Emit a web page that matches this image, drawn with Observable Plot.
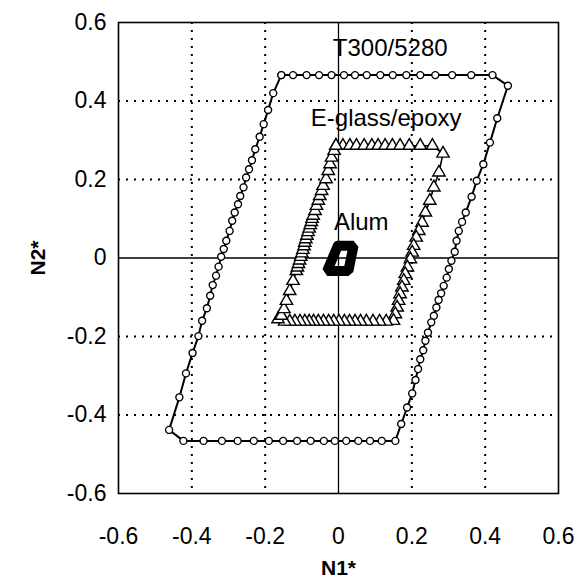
<!DOCTYPE html>
<html>
<head>
<meta charset="utf-8">
<script src="https://cdn.jsdelivr.net/npm/d3@7"></script>
<script src="https://cdn.jsdelivr.net/npm/@observablehq/plot@0.6"></script>
<style>
  html, body { margin: 0; padding: 0; background: #fff; }
  #chart svg { display: block; }
</style>
</head>
<body>
<div id="chart"></div>
<script>
// ---- tick values & labels ----
const axisTicks = [-0.6, -0.4, -0.2, 0, 0.2, 0.4, 0.6];
const axisTickLabels = ["-0.6", "-0.4", "-0.2", "0", "0.2", "0.4", "0.6"];
const gridValues = [-0.4, -0.2, 0.2, 0.4];

// ---- T300/5280 envelope (circles), clockwise from top-left ----
const t300X = [
  -0.156, -0.124, -0.087, -0.053, -0.019, 0.015, 0.045, 0.077, 0.114, 0.148, 0.185, 0.223, 0.264, 0.310, 0.362, 0.420,
  0.462, 0.433, 0.413, 0.395, 0.377, 0.363, 0.347, 0.337, 0.328, 0.322, 0.317, 0.308, 0.301, 0.295, 0.287, 0.280, 0.273,
  0.267, 0.260, 0.253, 0.244, 0.237, 0.231, 0.223, 0.217, 0.210, 0.201, 0.187, 0.171, 0.155,
  0.118, 0.086, 0.054, 0.021, -0.010, -0.040, -0.076, -0.113, -0.151, -0.190, -0.231, -0.275, -0.318, -0.368, -0.423,
  -0.462, -0.434, -0.416, -0.398, -0.382, -0.372, -0.359, -0.350, -0.343, -0.334, -0.327, -0.320,
  -0.313, -0.306, -0.297, -0.290, -0.283, -0.274, -0.268, -0.259, -0.252, -0.244, -0.236, -0.227, -0.215, -0.204, -0.192, -0.178,
  -0.156
];
const t300Y = [
  0.466, 0.466, 0.466, 0.466, 0.466, 0.466, 0.466, 0.466, 0.466, 0.466, 0.466, 0.466, 0.466, 0.466, 0.466, 0.466,
  0.439, 0.356, 0.294, 0.239, 0.197, 0.156, 0.116, 0.092, 0.069, 0.044, 0.016, -0.007, -0.028, -0.050, -0.071, -0.090, -0.107,
  -0.126, -0.147, -0.164, -0.190, -0.211, -0.235, -0.258, -0.283, -0.311, -0.345, -0.381, -0.423, -0.466,
  -0.466, -0.466, -0.466, -0.466, -0.466, -0.466, -0.466, -0.466, -0.466, -0.466, -0.466, -0.466, -0.466, -0.466, -0.466,
  -0.438, -0.355, -0.294, -0.242, -0.199, -0.160, -0.128, -0.096, -0.069, -0.045, -0.022, 0.003,
  0.023, 0.044, 0.069, 0.095, 0.116, 0.137, 0.158, 0.180, 0.205, 0.226, 0.249, 0.277, 0.309, 0.341, 0.377, 0.420,
  0.466
];

// ---- E-glass/epoxy envelope (triangles), clockwise from top-left ----
const eglassX = [
  -0.007, 0.012, 0.031, 0.049, 0.070, 0.091, 0.108, 0.127, 0.147, 0.168, 0.193, 0.223, 0.256,
  0.285, 0.274, 0.260, 0.249, 0.237, 0.228, 0.219, 0.212, 0.205, 0.201, 0.196, 0.188, 0.182, 0.178, 0.173, 0.168, 0.164, 0.160, 0.155, 0.150,
  0.130, 0.112, 0.094, 0.076, 0.060, 0.045, 0.030, 0.016, 0.001, -0.013, -0.027, -0.041, -0.055, -0.068, -0.080, -0.092, -0.105, -0.119, -0.133, -0.147,
  -0.165, -0.156, -0.149, -0.142, -0.133, -0.124, -0.115,
  -0.112, -0.109, -0.106, -0.103, -0.100, -0.097, -0.094, -0.092, -0.089, -0.086, -0.083, -0.080, -0.077, -0.074, -0.072,
  -0.069, -0.064, -0.060, -0.055, -0.051, -0.046, -0.042, -0.034, -0.028, -0.023, -0.019, -0.012,
  -0.007
];
const eglassY = [
  0.286, 0.286, 0.286, 0.286, 0.286, 0.286, 0.286, 0.286, 0.286, 0.286, 0.286, 0.286, 0.286,
  0.266, 0.218, 0.180, 0.146, 0.116, 0.090, 0.069, 0.052, 0.031, 0.014, -0.003, -0.024, -0.041, -0.058, -0.075, -0.092, -0.109, -0.126, -0.143, -0.160,
  -0.162, -0.162, -0.162, -0.162, -0.162, -0.162, -0.162, -0.162, -0.162, -0.162, -0.162, -0.162, -0.162, -0.162, -0.162, -0.162, -0.162, -0.162, -0.162, -0.162,
  -0.156, -0.147, -0.130, -0.109, -0.084, -0.058, -0.033,
  -0.024, -0.015, -0.006, 0.003, 0.012, 0.021, 0.030, 0.039, 0.048, 0.057, 0.066, 0.075, 0.084, 0.092, 0.100,
  0.108, 0.120, 0.133, 0.146, 0.158, 0.171, 0.184, 0.201, 0.222, 0.239, 0.256, 0.273,
  0.286
];

// ---- Aluminium envelope (small, thick) ----
const alumX = [-0.002, 0.041, 0.027, -0.031, -0.002];
const alumY = [0.031, 0.031, -0.033, -0.033, 0.031];

// ---- annotation labels ----
const labelText = ["T300/5280", "E-glass/epoxy", "Alum"];
const labelX = [0.141, 0.130, 0.062];
const labelY = [0.533, 0.357, 0.092];

const t300 = t300X.map((x, i) => ({x, y: t300Y[i]}));
const eglass = eglassX.map((x, i) => ({x, y: eglassY[i]}));
const alum = alumX.map((x, i) => ({x, y: alumY[i]}));
const labels = labelText.map((t, i) => ({t, x: labelX[i], y: labelY[i]}));

const fmt = d => axisTickLabels[axisTicks.findIndex(v => Math.abs(v - d) < 1e-9)];

const chart = Plot.plot({
  width: 580,
  height: 582,
  marginLeft: 118,
  marginRight: 22,
  marginTop: 22,
  marginBottom: 89,
  style: {fontFamily: "'Liberation Sans', Arial, Helvetica, sans-serif", fontSize: "22px", background: "#fff", color: "#000"},
  x: {domain: [-0.6, 0.6]},
  y: {domain: [-0.6, 0.6]},
  marks: [
    Plot.ruleX(gridValues, {stroke: "#000", strokeWidth: 2, strokeDasharray: "2,6"}),
    Plot.ruleY(gridValues, {stroke: "#000", strokeWidth: 2, strokeDasharray: "2,6"}),
    Plot.ruleX([0], {stroke: "#000", strokeWidth: 1.3}),
    Plot.ruleY([0], {stroke: "#000", strokeWidth: 1.3}),
    Plot.frame({stroke: "#000", strokeWidth: 1.6}),
    Plot.axisX({ticks: axisTicks, tickFormat: fmt, tickSize: 0, tickPadding: 34, label: null, fontSize: 23}),
    Plot.axisY({ticks: axisTicks, tickFormat: fmt, tickSize: 0, tickPadding: 12, label: null, fontSize: 23}),
    // T300/5280
    Plot.line(t300, {x: "x", y: "y", stroke: "#000", strokeWidth: 2}),
    Plot.dot(t300, {x: "x", y: "y", r: 3.5, fill: "#fff", stroke: "#000", strokeWidth: 1.4}),
    // E-glass/epoxy
    Plot.line(eglass, {x: "x", y: "y", stroke: "#000", strokeWidth: 1.6}),
    Plot.dot(eglass, {x: "x", y: "y", symbol: "triangle", r: 4.6, fill: "#fff", stroke: "#000", strokeWidth: 1.4}),
    // Aluminium
    Plot.line(alum, {x: "x", y: "y", stroke: "#000", strokeWidth: 10, strokeLinejoin: "miter"}),
    // annotations
    Plot.text(labels, {x: "x", y: "y", text: "t", fontSize: 24, fill: "#000", textAnchor: "middle"}),
    // axis titles
    Plot.text(["N1*"], {x: () => 0, y: () => -0.6, dy: 75, fontSize: 21, fontWeight: "bold", fill: "#000"}),
    Plot.text(["N2*"], {x: () => -0.6, y: () => 0, dx: -80, rotate: -90, fontSize: 21, fontWeight: "bold", fill: "#000"})
  ]
});

document.getElementById("chart").appendChild(chart);
</script>
</body>
</html>
